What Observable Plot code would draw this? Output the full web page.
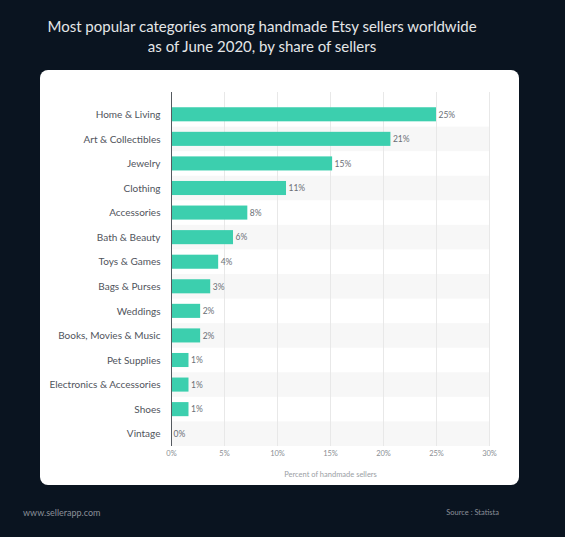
<!DOCTYPE html>
<html>
<head>
<meta charset="utf-8">
<script src="https://cdn.jsdelivr.net/npm/d3@7"></script>
<script src="https://cdn.jsdelivr.net/npm/@observablehq/plot@0.6"></script>
<style>
  html, body { margin: 0; padding: 0; }
  body { width: 565px; height: 537px; background: #0a1420; position: relative; overflow: hidden; font-family: Lato, "Open Sans", sans-serif; }
  #title { position: absolute; left: 0; top: 16px; width: 524px; text-align: center; color: #e4e6e8; font-size: 15px; line-height: 20px; font-weight: 400; }
  #card { position: absolute; left: 40px; top: 70px; width: 479px; height: 415px; background: #ffffff; border-radius: 8px; overflow: hidden; }
  #card svg { display: block; }
  #foot-l { position: absolute; left: 23px; top: 507px; color: #8a9099; font-size: 9px; }
  #foot-r { position: absolute; right: 66px; top: 508px; color: #8a9099; font-size: 7.5px; }
</style>
</head>
<body>
<div id="title">Most popular categories among handmade Etsy sellers worldwide<br>as of June 2020, by share of sellers</div>
<div id="card"></div>
<div id="foot-l">www.sellerapp.com</div>
<div id="foot-r">Source : Statista</div>
<script>
const categories = ["Home & Living", "Art & Collectibles", "Jewelry", "Clothing", "Accessories", "Bath & Beauty", "Toys & Games", "Bags & Purses", "Weddings", "Books, Movies & Music", "Pet Supplies", "Electronics & Accessories", "Shoes", "Vintage"];
const values = [25.0, 20.7, 15.2, 10.85, 7.2, 5.85, 4.45, 3.7, 2.75, 2.75, 1.65, 1.65, 1.65, 0];
const valueLabels = ["25%", "21%", "15%", "11%", "8%", "6%", "4%", "3%", "2%", "2%", "1%", "1%", "1%", "0%"];
const xTicks = [0, 5, 10, 15, 20, 25, 30];
const xTitle = "Percent of handmade sellers";

const data = categories.map((c, i) => ({category: c, value: values[i], label: valueLabels[i], stripe: i % 2 === 1}));

const chart = Plot.plot({
  width: 479,
  height: 415,
  marginLeft: 131,
  marginRight: 30,
  marginTop: 22,
  marginBottom: 39,
  style: {fontFamily: "Lato, 'Open Sans', sans-serif", background: "transparent"},
  x: {domain: [0, 30], ticks: xTicks, tickFormat: d => d + "%"},
  y: {domain: categories, padding: 0, insetTop: 10, round: false},
  marks: [
    Plot.barX(data.filter(d => d.stripe), {y: "category", x1: 0, x2: 30, fill: "#f7f7f7"}),
    Plot.ruleX(xTicks.slice(1), {stroke: "#e8e8e8", strokeWidth: 1}),
    Plot.barX(data, {y: "category", x: "value", fill: "#3ccfae", insetTop: 5.25, insetBottom: 5.25}),
    Plot.ruleX([0], {stroke: "#555a60", strokeWidth: 1}),
    Plot.text(data, {y: "category", x: "value", text: "label", textAnchor: "start", dx: 2, fill: "#6b6f76", fontSize: 8.5}),
    Plot.axisY({tickSize: 0, tickPadding: 11, fontSize: 10, color: "#50545c", label: null}),
    Plot.axisX({tickSize: 0, tickPadding: 4, fontSize: 7.5, color: "#8a8e94", label: null, ticks: xTicks, tickFormat: d => d + "%"}),
    Plot.text([xTitle], {frameAnchor: "bottom", dy: 30, fill: "#9a9ea4", fontSize: 7.5})
  ]
});
document.getElementById("card").appendChild(chart);
</script>
</body>
</html>
